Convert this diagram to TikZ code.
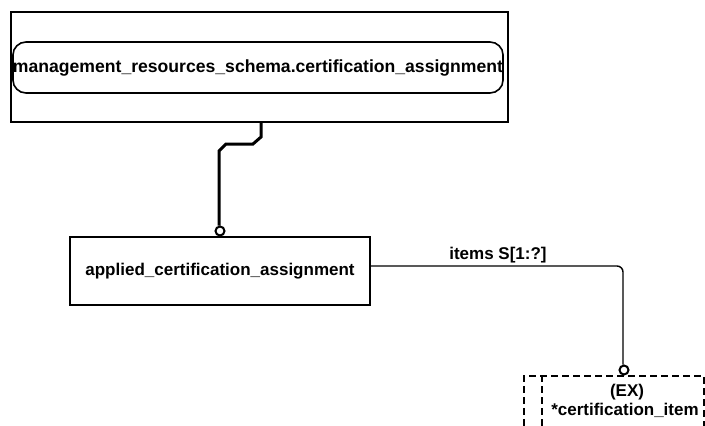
\documentclass[tikz,border=0pt]{standalone}
\usepackage{fontspec}
\setmainfont{Liberation Sans}
\usetikzlibrary{calc}
\begin{document}
\begin{tikzpicture}[x=1pt,y=-1pt,
  every node/.style={font=\bfseries\fontsize{17}{19}\selectfont, inner sep=0pt},
  ent/.style={draw, line width=1.8pt, minimum width=#1},
  rel/.style={line width=1.4pt},
  rel2/.style={line width=3pt},
  endcirc/.style={draw, line width=2pt, fill=white, circle, minimum size=9pt}
  ]
\useasboundingbox (0,0) rectangle (705,426);
\clip (0,0) rectangle (705,426);
\node[ent=497pt, minimum height=110pt] (schema) at (259.5,67) {};
\node[draw, line width=1.6pt, rounded corners=13pt, minimum width=490pt, minimum height=51pt] (ref) at (258,67.5) {\fontsize{17.6}{19}\selectfont management\_resources\_schema.certification\_assignment};
\node[ent=300pt, minimum height=68pt] (aca) at (220,271) {applied\_certification\_assignment};
\node[draw, dashed, dash pattern=on 7pt off 4pt, line width=1.6pt, minimum width=180pt, minimum height=70pt, anchor=north west] (item) at (523,375) {};
\draw[dashed, dash pattern=on 7pt off 4pt, line width=1.6pt] (542,375) -- (542,426);
\node (ex) at (627,392) {(EX)};
\node (ci) at (625,410) {*certification\_item};
\node[endcirc] (c1) at (220,231) {};
\node[endcirc] (c2) at (624,370) {};
\draw[rel2] (schema.south -| 261,0) -- (261,137) -- (253,144) -- (226,144) -- (219,151) -- (c1.north -| 219,0);
\draw[rel, rounded corners=6pt] (aca.east |- 0,266) -- (623,266) -- (c2.north -| 623,0);
\node (lab) at (498,255) {items S[1:?]};
\end{tikzpicture}
\end{document}
